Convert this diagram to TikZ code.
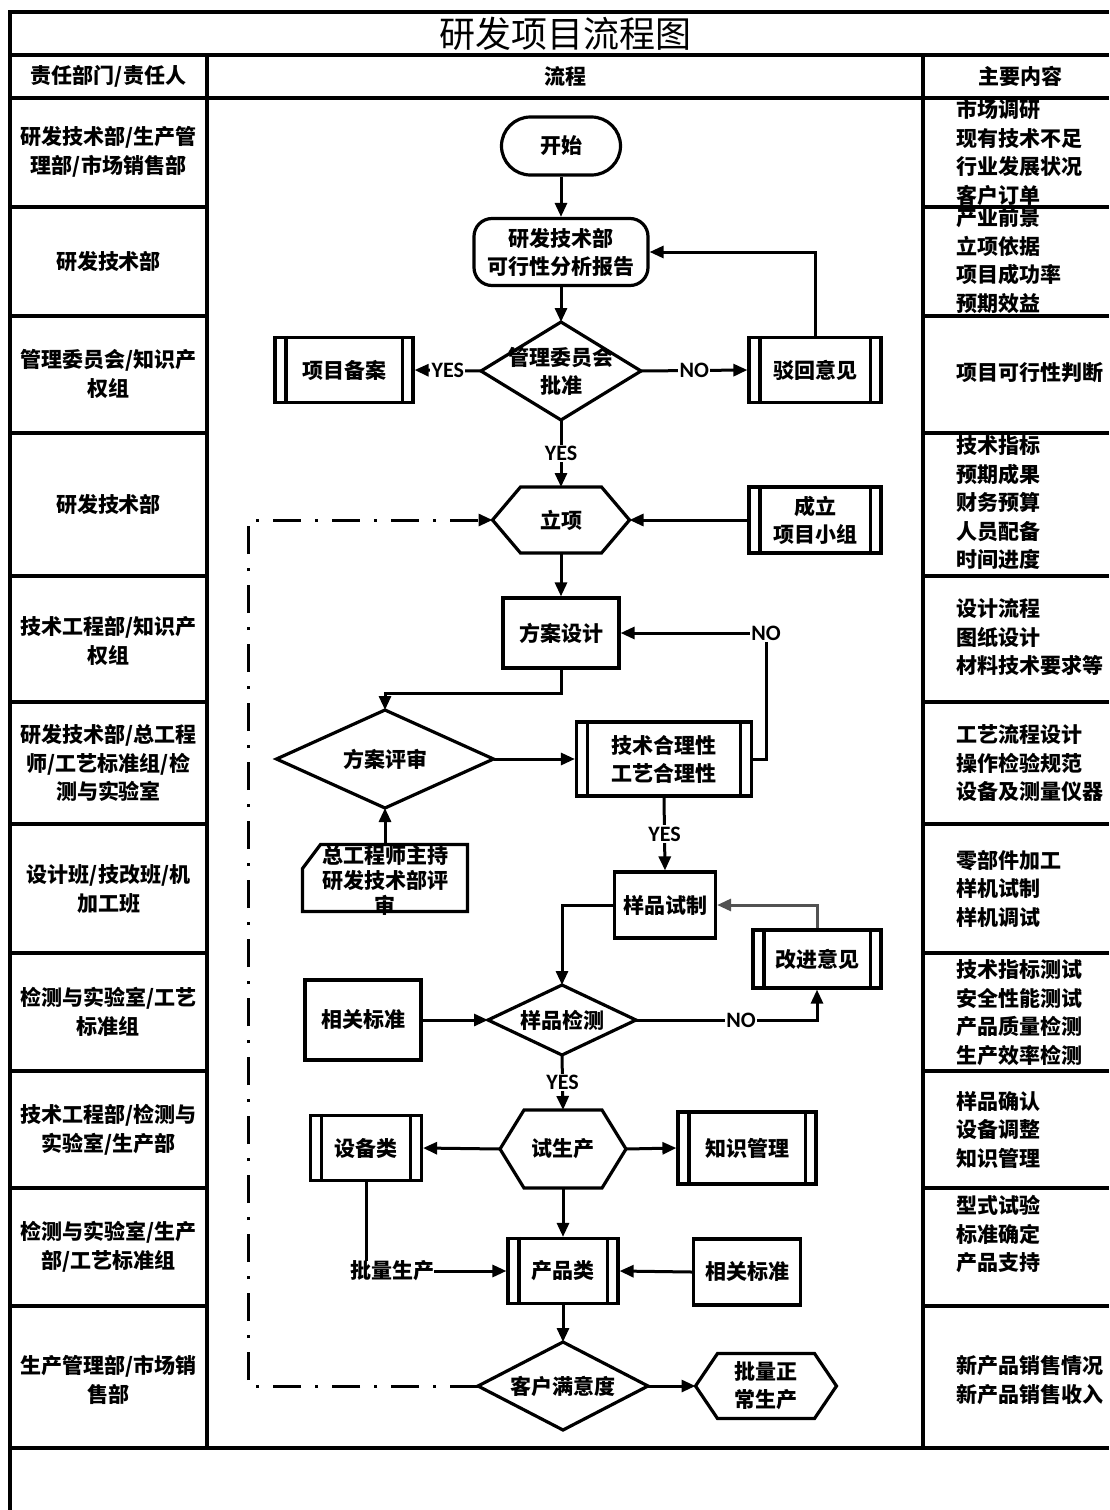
\documentclass[tikz,border=0pt]{standalone}
\usepackage{fontspec}
\newfontfamily\cjk{Noto Sans CJK SC}
\newfontfamily\lat[BoldFont={Carlito Bold}]{Carlito}
\usetikzlibrary{arrows.meta,calc}
\begin{document}
\begin{tikzpicture}[x=1pt,y=-1pt,
  ln/.style={line width=3.4pt},
  con/.style={line width=3pt,-{Triangle[length=14pt,width=12pt]}},
  plainln/.style={line width=3pt},
  dashloop/.style={line width=3pt,dash pattern=on 28pt off 14pt on 3pt off 14pt,-{Triangle[length=14pt,width=12pt]}},
  ftxt/.style={font=\cjk\bfseries\fontsize{21}{28}\selectfont, align=center, inner sep=0pt, outer sep=0pt},
  colt/.style={font=\cjk\bfseries\fontsize{21}{28.5}\selectfont, align=center, inner sep=0pt},
  rtxt/.style={font=\cjk\bfseries\fontsize{21}{28.5}\selectfont, align=left, inner sep=0pt, anchor=west},
  fbox/.style={ftxt, draw, line width=3.2pt, outer sep=1.6pt},
  shp/.style={ftxt},
  lbl/.style={font=\lat\bfseries\fontsize{22}{22}\selectfont, fill=white, inner sep=1.5pt},
]
\useasboundingbox (0,0) rectangle (1109,1510);

% ---------- table ----------
\draw[ln] (10,1510) -- (10,12) -- (1109,12);
\draw[ln] (10,55) -- (1109,55);
\draw[ln] (10,98) -- (1109,98);
\draw[ln] (10,1448) -- (1109,1448);
\draw[ln] (207,55) -- (207,1448);
\draw[ln] (923,55) -- (923,1448);
\foreach \y in {207,316,433,576,702,824,953,1071,1188,1306} {
  \draw[ln] (10,\y) -- (207,\y);
  \draw[ln] (923,\y) -- (1109,\y);
}

\node[font=\cjk\fontsize{36}{36}\selectfont, inner sep=0pt] (title) at (565,34) {研发项目流程图};
\node[colt] (h1) at (108.5,76) {责任部门/责任人};
\node[colt] (h2) at (565,76) {流程};
\node[colt] (h3) at (1020,76) {主要内容};

% ---------- left column ----------
\node[colt] (l1) at (108.5,152) {研发技术部/生产管\\理部/市场销售部};
\node[colt] (l2) at (108.5,262) {研发技术部};
\node[colt] (l3) at (108.5,374) {管理委员会/知识产\\权组};
\node[colt] (l4) at (108.5,505) {研发技术部};
\node[colt] (l5) at (108.5,641) {技术工程部/知识产\\权组};
\node[colt] (l6) at (108.5,763) {研发技术部/总工程\\师/工艺标准组/检\\测与实验室};
\node[colt] (l7) at (108.5,889) {设计班/技改班/机\\加工班};
\node[colt] (l8) at (108.5,1012) {检测与实验室/工艺\\标准组};
\node[colt] (l9) at (108.5,1130) {技术工程部/检测与\\实验室/生产部};
\node[colt] (l10) at (108.5,1247) {检测与实验室/生产\\部/工艺标准组};
\node[colt] (l11) at (108.5,1380) {生产管理部/市场销\\售部};

% ---------- right column ----------
\node[rtxt] (r1) at (956,152.5) {市场调研\\现有技术不足\\行业发展状况\\客户订单};
\node[rtxt] (r2) at (956,260.5) {产业前景\\立项依据\\项目成功率\\预期效益};
\node[rtxt] (r3) at (956,373) {项目可行性判断};
\node[rtxt] (r4) at (956,503) {技术指标\\预期成果\\财务预算\\人员配备\\时间进度};
\node[rtxt] (r5) at (956,637.5) {设计流程\\图纸设计\\材料技术要求等};
\node[rtxt] (r6) at (956,763) {工艺流程设计\\操作检验规范\\设备及测量仪器};
\node[rtxt] (r7) at (956,888.5) {零部件加工\\样机试制\\样机调试};
\node[rtxt] (r8) at (956,1012.5) {技术指标测试\\安全性能测试\\产品质量检测\\生产效率检测};
\node[rtxt] (r9) at (956,1129.5) {样品确认\\设备调整\\知识管理};
\node[rtxt] (r10) at (956,1234.5) {型式试验\\标准确定\\产品支持};
\node[rtxt] (r11) at (956,1380) {新产品销售情况\\新产品销售收入};

% ---------- flow nodes ----------
\node[fbox, rounded corners=29pt, minimum width=119pt, minimum height=58pt] (start) at (561,146) {开始};
\node[fbox, rounded corners=18pt, minimum width=174pt, minimum height=67pt] (report) at (561,252) {研发技术部\\可行性分析报告};
\node[shp, minimum width=160pt, minimum height=98pt] (approve) at (561,371) {管理委员会\\批准};
\node[fbox, minimum width=138pt, minimum height=65pt] (beian) at (344,370) {项目备案};
\node[fbox, minimum width=132pt, minimum height=65pt] (bohui) at (815,370) {驳回意见};
\node[shp, minimum width=137pt, minimum height=66pt] (lixiang) at (561,520) {立项};
\node[fbox, minimum width=132pt, minimum height=66pt] (team) at (815,520) {成立\\项目小组};
\node[fbox, minimum width=116pt, minimum height=70pt] (design) at (561,633) {方案设计};
\node[shp, minimum width=217pt, minimum height=98pt] (review) at (385,759) {方案评审};
\node[fbox, minimum width=175pt, minimum height=74pt] (tech) at (664,759) {技术合理性\\工艺合理性};
\node[shp, minimum width=165pt, minimum height=67pt] (card) at (385,878) {};
\node[font=\cjk\bfseries\fontsize{21}{25}\selectfont, align=center, inner sep=0pt] (cardtxt) at (385,880) {总工程师主持\\研发技术部评\\审};
\node[fbox, minimum width=101pt, minimum height=66pt] (sample) at (665,905) {样品试制};
\node[fbox, minimum width=128pt, minimum height=58pt] (improve) at (817,959) {改进意见};
\node[shp, minimum width=148pt, minimum height=70pt] (test) at (562,1020) {样品检测};
\node[fbox, minimum width=116pt, minimum height=80pt] (std1) at (363,1020) {相关标准};
\node[shp, minimum width=126pt, minimum height=78pt] (trial) at (563,1149) {试生产};
\node[fbox, minimum width=111pt, minimum height=65pt] (equip) at (366,1148) {设备类};
\node[fbox, minimum width=138pt, minimum height=72pt] (know) at (747,1148) {知识管理};
\node[fbox, minimum width=110pt, minimum height=65pt] (product) at (563,1271) {产品类};
\node[fbox, minimum width=107pt, minimum height=66pt] (std2) at (747,1272) {相关标准};
\node[ftxt] (batch) at (392,1271) {批量生产};
\node[shp, minimum width=170pt, minimum height=88pt] (satisfy) at (563,1386) {客户满意度};
\node[shp, minimum width=141pt, minimum height=65pt] (normal) at (766,1386) {批量正\\常生产};

% outlines: diamonds
\foreach \n in {approve,review,test,satisfy} {
  \draw[line width=3.2pt] (\n.north) -- (\n.east) -- (\n.south) -- (\n.west) -- cycle;
}
% hexagons
\foreach \n/\d in {lixiang/28,trial/24,normal/22} {
  \draw[line width=3.2pt] (\n.west) -- ($(\n.north west)+(\d,0)$) -- ($(\n.north east)+(-\d,0)$) -- (\n.east)
    -- ($(\n.south east)+(-\d,0)$) -- ($(\n.south west)+(\d,0)$) -- cycle;
}
% predefined process inner lines
\foreach \n in {beian,bohui,team,tech,improve,equip,know,product} {
  \draw[line width=3.2pt] ($(\n.north west)+(12.5,0)$) -- ($(\n.south west)+(12.5,0)$);
  \draw[line width=3.2pt] ($(\n.north east)+(-12.5,0)$) -- ($(\n.south east)+(-12.5,0)$);
}
% card
\draw[line width=3.2pt] (card.south west) -- ($(card.north west)+(0,24)$) -- ($(card.north west)+(18,0)$) -- (card.north east) -- (card.south east) -- cycle;

% ---------- connectors ----------
\draw[con] (start.south) -- (report.north);
\draw[con] (report.south) -- (approve.north);
\draw[con] (approve.west) -- node[lbl]{YES} (beian.east);
\draw[con] (approve.east) -- node[lbl]{NO} (bohui.west);
\draw[con] (bohui.north) |- (report.east);
\draw[con] (approve.south) -- node[lbl]{YES} (lixiang.north);
\draw[con] (team.west) -- (lixiang.east);
\draw[con] (lixiang.south) -- (design.north);
\draw[con] (design.south) -- ++(0,24) -| (review.north);
\draw[con] (review.east) -- (tech.west);
\coordinate (nocorner) at (766,633);
\draw[con] (tech.east) -| (nocorner) -- (design.east);
\node[lbl] (nolbl) at (nocorner) {NO};
\draw[con] (card.north) -- (review.south);
\draw[con] (tech.south) -- node[lbl]{YES} (sample.north);
\draw[con] (sample.west) -| (test.north);
\draw[con, color=black!68] (improve.north) |- (sample.east);
\draw[con] (test.east) -- node[lbl, pos=0.58]{NO} (test.east -| improve.south) -- (improve.south);
\draw[con] (std1.east) -- (test.west);
\draw[con] (test.south) -- node[lbl]{YES} (trial.north);
\draw[con] (trial.west) -- (equip.east);
\draw[con] (trial.east) -- (know.west);
\draw[con] (trial.south) -- (product.north);
\draw[plainln] (equip.south) -- (equip.south |- batch.north);
\draw[con] (batch.east) -- (product.west);
\draw[con] (std2.west) -- (product.east);
\draw[con] (product.south) -- (satisfy.north);
\draw[con] (satisfy.east) -- (normal.west);
\coordinate (loopcorner) at (248,520);
\draw[dashloop] (satisfy.west) -| (loopcorner) -- (lixiang.west);
\end{tikzpicture}
\end{document}
